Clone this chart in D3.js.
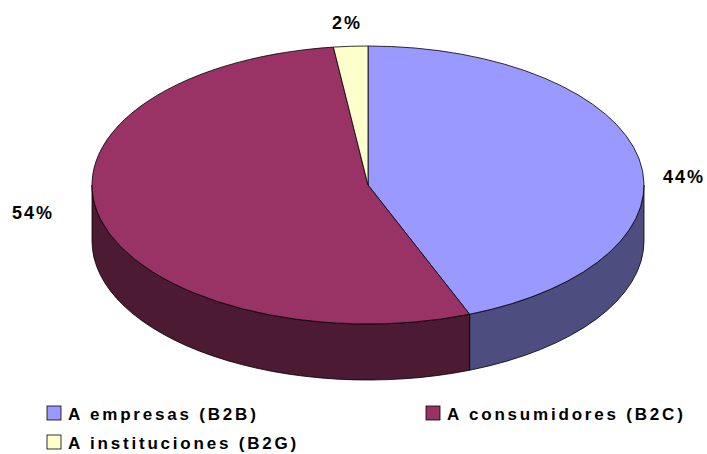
<!DOCTYPE html>
<html>
<head>
<meta charset="utf-8">
<script src="https://cdn.jsdelivr.net/npm/d3@7"></script>
<style>
  body { margin: 0; background: #fff; }
  #chart { width: 707px; height: 454px; }
  text { font-family: "Liberation Sans", Arial, sans-serif; font-weight: bold; fill: #000; }
</style>
</head>
<body>
<div id="chart"></div>
<script>
// data
const categories = ["A empresas (B2B)", "A consumidores (B2C)", "A instituciones (B2G)"];
const values = [44, 54, 2];
const labels = ["44%", "54%", "2%"];
const topColors = ["#9999FF", "#993366", "#FFFFCC"];
const sideColors = ["#4D4D80", "#4D1A33", "#80805F"];

const width = 707, height = 454;
const cx = 368, cy = 185, rx = 276, ry = 139, depth = 56;

const svg = d3.select("#chart").append("svg")
    .attr("width", width)
    .attr("height", height);

const pie = d3.pie().sort(null).value(d => d)(values);

// point on the tilted ellipse, angle clockwise from 12 o'clock
function pt(a, dy) {
    return [cx + rx * Math.sin(a), cy - ry * Math.cos(a) + (dy || 0)];
}

/* SIDE WALLS (front half only) */
pie.forEach(function(s, i) {
    const a0 = Math.max(s.startAngle, Math.PI / 2);
    const a1 = Math.min(s.endAngle, 3 * Math.PI / 2);
    if (a1 <= a0) return;
    const p0 = pt(a0), p1 = pt(a1), q1 = pt(a1, depth), q0 = pt(a0, depth);
    const large = (a1 - a0) > Math.PI ? 1 : 0;
    const d = `M${p0} A${rx},${ry} 0 ${large} 1 ${p1} L${q1} A${rx},${ry} 0 ${large} 0 ${q0} Z`;
    svg.append("path")
        .attr("d", d)
        .attr("fill", sideColors[i])
        .attr("stroke", "#000")
        .attr("stroke-width", 0.8)
        .attr("stroke-linejoin", "round");
});

/* TOP FACES */
pie.forEach(function(s, i) {
    const p0 = pt(s.startAngle), p1 = pt(s.endAngle);
    const large = (s.endAngle - s.startAngle) > Math.PI ? 1 : 0;
    const d = `M${cx},${cy} L${p0} A${rx},${ry} 0 ${large} 1 ${p1} Z`;
    svg.append("path")
        .attr("d", d)
        .attr("fill", topColors[i])
        .attr("stroke", "#000")
        .attr("stroke-width", 0.8)
        .attr("stroke-linejoin", "round");
});

/* PERCENT LABELS */
const labelPos = [[684, 183], [33, 219], [347, 29]];
labels.forEach(function(t, i) {
    svg.append("text")
        .attr("x", labelPos[i][0])
        .attr("y", labelPos[i][1])
        .attr("text-anchor", "middle")
        .style("font-size", "18px")
        .style("letter-spacing", "2px")
        .text(t);
});

/* LEGEND */
const legendPos = [[47, 406], [426, 406], [47, 435]];
const legend = svg.selectAll(".legend")
    .data(categories)
    .enter()
    .append("g")
    .attr("class", "legend")
    .attr("transform", (d, i) => `translate(${legendPos[i][0]},${legendPos[i][1]})`);

legend.append("rect")
    .attr("width", 14)
    .attr("height", 14)
    .attr("fill", (d, i) => topColors[i])
    .attr("stroke", "#000")
    .attr("stroke-width", 0.8);

legend.append("text")
    .attr("x", 21)
    .attr("y", 14)
    .style("font-size", "17px")
    .style("letter-spacing", "2.8px")
    .text(d => d);
</script>
</body>
</html>
